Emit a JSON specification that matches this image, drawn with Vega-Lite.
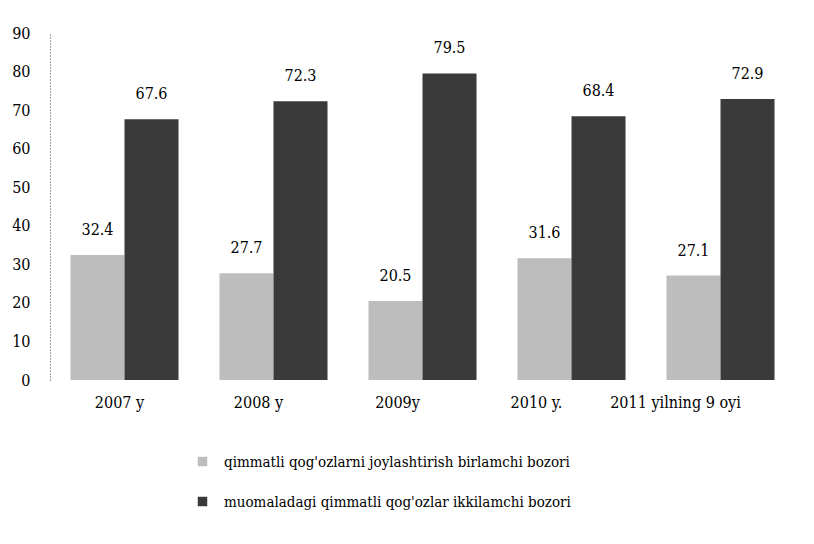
{
  "$schema": "https://vega.github.io/schema/vega-lite/v6.json",
  "width": 745,
  "height": 347,
  "autosize": "none",
  "padding": {"left": 50, "top": 33, "right": 19, "bottom": 164},
  "background": "white",
  "config": {
    "view": {"stroke": null},
    "font": "DejaVu Serif Condensed, Liberation Serif, serif",
    "axis": {"labelFont": "DejaVu Serif Condensed, Liberation Serif, serif"},
    "legend": {"labelFont": "DejaVu Serif Condensed, Liberation Serif, serif"},
    "text": {"font": "DejaVu Serif Condensed, Liberation Serif, serif"}
  },
  "data": {
    "values": [
      {"year": "2007 y", "series": "qimmatli qog'ozlarni joylashtirish birlamchi bozori", "value": 32.4, "label": "32.4"},
      {"year": "2007 y", "series": "muomaladagi qimmatli qog'ozlar ikkilamchi bozori", "value": 67.6, "label": "67.6"},
      {"year": "2008 y", "series": "qimmatli qog'ozlarni joylashtirish birlamchi bozori", "value": 27.7, "label": "27.7"},
      {"year": "2008 y", "series": "muomaladagi qimmatli qog'ozlar ikkilamchi bozori", "value": 72.3, "label": "72.3"},
      {"year": "2009y", "series": "qimmatli qog'ozlarni joylashtirish birlamchi bozori", "value": 20.5, "label": "20.5"},
      {"year": "2009y", "series": "muomaladagi qimmatli qog'ozlar ikkilamchi bozori", "value": 79.5, "label": "79.5"},
      {"year": "2010 y.", "series": "qimmatli qog'ozlarni joylashtirish birlamchi bozori", "value": 31.6, "label": "31.6"},
      {"year": "2010 y.", "series": "muomaladagi qimmatli qog'ozlar ikkilamchi bozori", "value": 68.4, "label": "68.4"},
      {"year": "2011 yilning 9 oyi", "series": "qimmatli qog'ozlarni joylashtirish birlamchi bozori", "value": 27.1, "label": "27.1"},
      {"year": "2011 yilning 9 oyi", "series": "muomaladagi qimmatli qog'ozlar ikkilamchi bozori", "value": 72.9, "label": "72.9"}
    ]
  },
  "encoding": {
    "x": {
      "field": "year", "type": "nominal", "sort": null,
      "scale": {"paddingInner": 0.275, "paddingOuter": 0.1375},
      "axis": {
        "title": null, "labelAngle": 0, "domain": false, "ticks": false, "labelPadding": 14, "labelFontSize": 16, "labelColor": "#000",
        "labelOffset": {"expr": "-5 - 40 * datum.index"}
      }
    },
    "xOffset": {
      "field": "series", "type": "nominal",
      "sort": ["qimmatli qog'ozlarni joylashtirish birlamchi bozori", "muomaladagi qimmatli qog'ozlar ikkilamchi bozori"],
      "scale": {"paddingInner": 0, "paddingOuter": 0}
    },
    "y": {
      "field": "value", "type": "quantitative",
      "scale": {"domain": [0, 90], "nice": false},
      "axis": {"title": null, "values": [0,10,20,30,40,50,60,70,80,90], "grid": false, "ticks": false, "domainDash": [1, 2], "domainColor": "#444", "labelPadding": 20, "labelFontSize": 16, "labelColor": "#000"}
    }
  },
  "layer": [
    {
      "mark": {"type": "bar"},
      "encoding": {
        "color": {
          "field": "series", "type": "nominal",
          "scale": {
            "domain": ["qimmatli qog'ozlarni joylashtirish birlamchi bozori", "muomaladagi qimmatli qog'ozlar ikkilamchi bozori"],
            "range": ["#bdbdbd", "#3a3a3a"]
          },
          "legend": {
            "title": null, "orient": "none", "legendX": 145, "legendY": 421, "direction": "vertical",
            "symbolType": "square", "symbolSize": 90, "labelFontSize": 15, "labelColor": "#000",
            "rowPadding": 24, "labelOffset": 14, "labelLimit": 600
          }
        }
      }
    },
    {
      "mark": {"type": "text", "baseline": "middle", "dy": -25, "fontSize": 16, "color": "#000"},
      "encoding": {"text": {"field": "label"}}
    }
  ]
}
